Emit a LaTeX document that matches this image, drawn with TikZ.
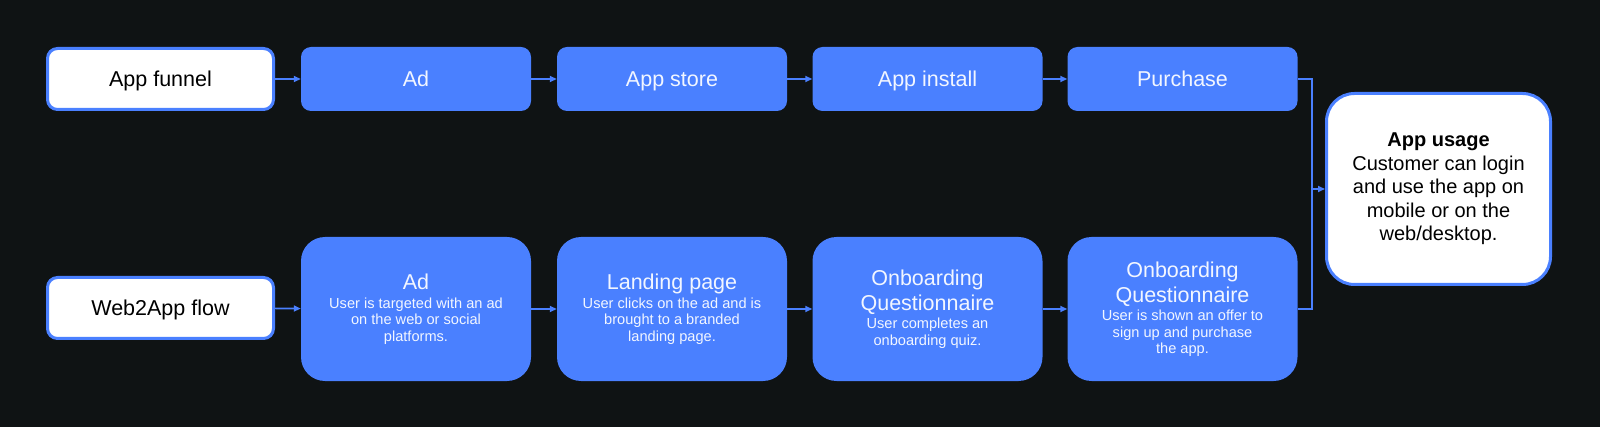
\documentclass[tikz,border=0pt]{standalone}
\usepackage{fontspec}
\setmainfont{Liberation Sans}
\usetikzlibrary{arrows.meta}
\definecolor{bgdark}{HTML}{0F1314}
\definecolor{fblue}{HTML}{4A80FF}
\definecolor{ftext}{HTML}{F2F6FF}
\newcommand\boxttl{\fontsize{21.5}{25}\selectfont}
\begin{document}
\lineskiplimit=-100pt\relax
\begin{tikzpicture}[x=1pt,y=-1pt,
  bluebase/.style={fill=fblue, draw=none, rounded corners=10pt, minimum width=230pt,
    inner sep=0pt, text=ftext, align=center},
  flowbox/.style={bluebase, minimum height=64pt, text height=15pt, text depth=0pt,
    font=\fontsize{21.5}{25}\selectfont},
  tallbox/.style={bluebase, rounded corners=24pt, minimum height=144pt,
    font=\fontsize{14.6}{16.5}\selectfont},
  whitebase/.style={fill=white, draw=fblue, line width=3pt, inner sep=0pt,
    text=black, align=center},
  whitebox/.style={whitebase, rounded corners=10pt, minimum width=226pt, minimum height=61pt,
    text height=15pt, text depth=0pt, font=\fontsize{21.5}{25}\selectfont},
  usagebox/.style={whitebase, rounded corners=28pt, minimum width=224pt, minimum height=191pt,
    font=\fontsize{20}{23.5}\selectfont},
  conn/.style={draw=fblue, line width=1.6pt, -{Triangle[length=7pt,width=6pt]}},
  link/.style={draw=fblue, line width=1.6pt}
]
\fill[bgdark] (0,0) rectangle (1600,427);
\useasboundingbox (0,0) rectangle (1600,427);

% top row
\node[whitebox] (funnel) at (160.5,79) {App funnel};
\node[flowbox] (ad1) at (416,79) {Ad};
\node[flowbox] (store) at (672,79) {App store};
\node[flowbox] (install) at (927.5,79) {App install};
\node[flowbox] (purchase) at (1182.5,79) {Purchase};

% bottom row
\node[whitebox] (web) at (160.5,308) {Web2App flow};
\node[tallbox] (ad2) at (416,309) {{\boxttl Ad}\\[2pt]User is targeted with an ad\\on the web or social\\platforms.};
\node[tallbox] (land) at (672,309) {{\boxttl Landing page}\\[2pt]User clicks on the ad and is\\brought to a branded\\landing page.};
\node[tallbox] (onb1) at (927.5,309) {{\boxttl Onboarding}\\[8.5pt]{\boxttl Questionnaire}\\[2pt]User completes an\\onboarding quiz.};
\node[tallbox] (onb2) at (1182.5,309) {{\boxttl Onboarding}\\[8.5pt]{\boxttl Questionnaire}\\[2pt]User is shown an offer to\\sign up and purchase\\the app.};

% usage
\node[usagebox] (usage) at (1438.5,189) {{\bfseries App usage}\\Customer can login\\and use the app on\\mobile or on the\\web/desktop.};

% connectors
\draw[conn] (funnel) -- (ad1);
\draw[conn] (ad1) -- (store);
\draw[conn] (store) -- (install);
\draw[conn] (install) -- (purchase);
\draw[conn] (web) -- (ad2);
\draw[conn] (ad2) -- (land);
\draw[conn] (land) -- (onb1);
\draw[conn] (onb1) -- (onb2);
\coordinate (join) at (1312,189);
\draw[link] (purchase.east) -| (join);
\draw[link] (onb2.east) -| (join);
\draw[conn] (join) -- (usage);
\end{tikzpicture}
\end{document}
